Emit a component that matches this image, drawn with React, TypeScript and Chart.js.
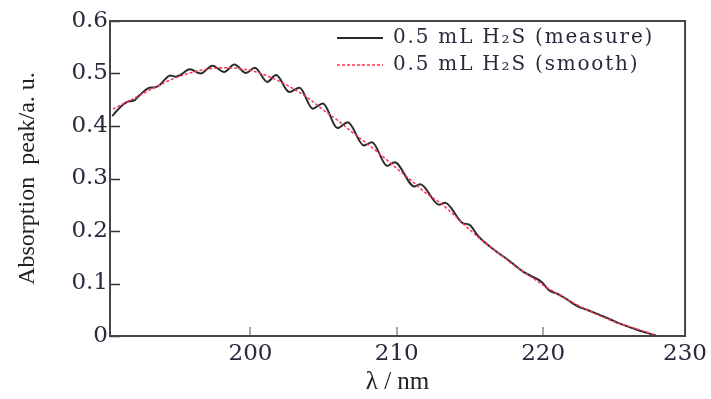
import React, { useEffect, useRef } from "react";
import { Chart, registerables } from "chart.js";

Chart.register(...registerables);

// Measured spectrum (nm, absorption peak in a.u.)
const WAVELENGTH_MEASURE = [
  190.55, 190.9, 191.3, 191.7, 192.0, 192.4, 192.8, 193.1, 193.5, 193.8, 194.2, 194.5, 194.9, 195.2, 195.85,
  196.6, 197.4, 198.2, 198.9, 199.7, 200.3, 201.15, 201.75, 202.65, 203.35, 204.25, 204.95, 205.95, 206.65,
  207.75, 208.3, 209.35, 209.85, 211.2, 211.6, 212.9, 213.3, 214.5, 214.95, 215.6, 216.8, 217.7, 218.6, 219.2,
  219.9, 220.4, 221.0, 221.5, 222.4, 223.0, 223.6, 224.4, 225.2, 225.9, 226.5, 227.1, 227.7,
];
const ABS_MEASURE = [
  0.419, 0.430, 0.441, 0.447, 0.448, 0.458, 0.468, 0.473, 0.474, 0.478, 0.490, 0.496, 0.494, 0.497, 0.508,
  0.500, 0.515, 0.503, 0.517, 0.501, 0.511, 0.484, 0.497, 0.465, 0.473, 0.433, 0.443, 0.396, 0.407,
  0.363, 0.369, 0.324, 0.331, 0.285, 0.289, 0.250, 0.254, 0.215, 0.212, 0.189, 0.161, 0.143, 0.123, 0.114,
  0.103, 0.087, 0.080, 0.072, 0.056, 0.050, 0.043, 0.034, 0.024, 0.017, 0.011, 0.006, 0.001,
];

// Smoothed spectrum
const WAVELENGTH_SMOOTH = [
  190.6, 191, 192, 193, 194, 195, 196, 197, 198, 199, 200, 201, 202, 203, 204, 205, 206, 207, 208, 209, 210,
  211, 212, 213, 214, 215, 216, 217, 218, 219, 220, 221, 222, 223, 224, 225, 226, 227, 227.8,
];
const ABS_SMOOTH = [
  0.432, 0.438, 0.452, 0.467, 0.481, 0.493, 0.502, 0.508, 0.511, 0.510, 0.506, 0.497, 0.485, 0.470, 0.452,
  0.430, 0.410, 0.387, 0.366, 0.343, 0.319, 0.296, 0.272, 0.253, 0.228, 0.202, 0.178, 0.157, 0.135, 0.116,
  0.097, 0.080, 0.064, 0.050, 0.037, 0.026, 0.017, 0.008, 0.0,
];

const LABEL_MEASURE = "0.5 mL H\u2082S (measure)";
const LABEL_SMOOTH = "0.5 mL H\u2082S (smooth)";

const X_MIN = 190.4;
const X_MAX = 229.7;
const X_TICK_VALUES = [200, 210, 220, 230];
const X_TICK_LABELS = ["200", "210", "220", "230"];
const Y_TICK_VALUES = [0, 0.1, 0.2, 0.3, 0.4, 0.5, 0.6];
const Y_TICK_LABELS = ["0", "0.1", "0.2", "0.3", "0.4", "0.5", "0.6"];

const X_TITLE = "\u03bb / nm";
const Y_TITLE = "Absorption  peak/a. u.";

const TICK_COLOR = "#262a3c";
const MEASURE_COLOR = "#2b2b2b";
const SMOOTH_COLOR = "#ff3355";

const framePlugin = {
  id: "frameAndLegend",
  afterDatasetsDraw(chart: any) {
    const { ctx, chartArea: a, scales } = chart;
    ctx.save();
    // inner y ticks
    ctx.strokeStyle = "#333333";
    ctx.lineWidth = 1.5;
    for (const v of Y_TICK_VALUES) {
      const y = Math.round(scales.y.getPixelForValue(v)) + 0.5;
      ctx.beginPath();
      ctx.moveTo(a.left, y);
      ctx.lineTo(a.left + 10, y);
      ctx.stroke();
    }
    // inner x ticks
    ctx.strokeStyle = "#a8a8a8";
    ctx.lineWidth = 2;
    for (const v of X_TICK_VALUES) {
      if (v >= X_MAX) continue;
      const x = Math.round(scales.x.getPixelForValue(v));
      ctx.beginPath();
      ctx.moveTo(x, a.bottom);
      ctx.lineTo(x, a.bottom - 9);
      ctx.stroke();
    }
    // frame
    ctx.strokeStyle = "#454545";
    ctx.lineWidth = 2;
    ctx.strokeRect(a.left, a.top, a.right - a.left, a.bottom - a.top);

    // legend
    const ds = chart.data.datasets;
    const rows = [
      { y: 38, ds: ds[0] },
      { y: 65, ds: ds[1] },
    ];
    ctx.font = "20px 'DejaVu Serif'";
    ctx.textBaseline = "middle";
    ctx.textAlign = "left";
    try {
      (ctx as any).letterSpacing = "1.8px";
    } catch (e) {}
    for (const r of rows) {
      ctx.beginPath();
      ctx.strokeStyle = r.ds.borderColor;
      ctx.lineWidth = r.ds.borderWidth;
      ctx.setLineDash(r.ds.borderDash || []);
      ctx.moveTo(337, r.y);
      ctx.lineTo(383, r.y);
      ctx.stroke();
      ctx.setLineDash([]);
      ctx.fillStyle = TICK_COLOR;
      ctx.fillText(r.ds.label, 393, r.y);
    }
    ctx.restore();
  },
};

export default function App() {
  const canvasRef = useRef<HTMLCanvasElement | null>(null);

  useEffect(() => {
    document.body.style.margin = "0";
    const canvas = canvasRef.current;
    if (!canvas) return;
    const chart = new Chart(canvas, {
      type: "line",
      data: {
        datasets: [
          {
            label: LABEL_MEASURE,
            data: WAVELENGTH_MEASURE.map((x, i) => ({ x, y: ABS_MEASURE[i] })),
            borderColor: MEASURE_COLOR,
            borderWidth: 2,
            pointRadius: 0,
            cubicInterpolationMode: "monotone",
            fill: false,
            order: 2,
          },
          {
            label: LABEL_SMOOTH,
            data: WAVELENGTH_SMOOTH.map((x, i) => ({ x, y: ABS_SMOOTH[i] })),
            borderColor: SMOOTH_COLOR,
            borderWidth: 1.5,
            borderDash: [3, 2],
            pointRadius: 0,
            cubicInterpolationMode: "monotone",
            fill: false,
            order: 1,
          },
        ],
      },
      options: {
        responsive: false,
        animation: false,
        devicePixelRatio: 1,
        layout: { padding: { left: 0, right: 25, top: 21, bottom: 0 } },
        plugins: {
          legend: { display: false },
          tooltip: { enabled: false },
        },
        scales: {
          x: {
            type: "linear",
            min: X_MIN,
            max: X_MAX,
            grid: { display: false, drawTicks: false },
            border: { display: false },
            afterBuildTicks: (scale: any) => {
              scale.ticks = X_TICK_VALUES.map((v) => ({ value: Math.min(v, X_MAX) }));
            },
            afterFit: (scale: any) => {
              scale.height = 63;
            },
            ticks: {
              padding: 4,
              maxRotation: 0,
              autoSkip: false,
              color: TICK_COLOR,
              font: { family: "'DejaVu Serif'", size: 23 },
              callback: (_v: any, i: number) => X_TICK_LABELS[i],
            },
            title: {
              display: true,
              text: X_TITLE,
              color: "#222",
              font: { family: "'Liberation Serif'", size: 25 },
              padding: { top: 0, bottom: 2 },
            },
          },
          y: {
            type: "linear",
            min: 0,
            max: 0.6,
            grid: { display: false, drawTicks: false },
            border: { display: false },
            afterBuildTicks: (scale: any) => {
              scale.ticks = Y_TICK_VALUES.map((v) => ({ value: v }));
            },
            afterFit: (scale: any) => {
              scale.width = 110;
            },
            ticks: {
              padding: 2,
              autoSkip: false,
              color: TICK_COLOR,
              font: { family: "'DejaVu Serif'", size: 23 },
              callback: (_v: any, i: number) => Y_TICK_LABELS[i],
            },
            title: {
              display: true,
              text: Y_TITLE,
              color: "#222",
              font: { family: "'Liberation Serif'", size: 24 },
              padding: { top: 13, bottom: 0 },
            },
          },
        },
      },
      plugins: [framePlugin],
    });
    return () => chart.destroy();
  }, []);

  return (
    <div style={{ width: 711, height: 399, background: "#fff" }}>
      <canvas ref={canvasRef} width={711} height={399} />
    </div>
  );
}
